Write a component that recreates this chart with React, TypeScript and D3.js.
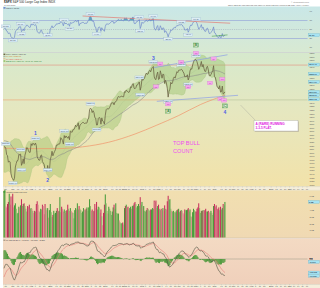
import React from "react";
import * as d3 from "d3";

// ---------------- data ----------------
const warmupCloses = [1211.7, 1192.1, 1197.5, 1207.2, 1205.9, 1208.7, 1217.3, 1212.1, 1183.7, 1191.4, 1206.8, 1186.7, 1202.3, 1173.6, 1165.9, 1128.2, 1110.9, 1159.7, 1155.8, 1171.7, 1157.4, 1135.7, 1136.9, 1120.8, 1115.1, 1071.6, 1087.7, 1073.7, 1074.0, 1067.9, 1103.1, 1089.4, 1070.7, 1098.4, 1102.8, 1064.9, 1050.5, 1062.0, 1055.7, 1086.8, 1091.6, 1089.6, 1115.2, 1114.6];
const closesJun2010 = [1116.0, 1117.5, 1113.2, 1095.3, 1092.0, 1073.7, 1076.8, 1074.6, 1041.2, 1030.7];
const closesJul2010 = [1027.4, 1022.6, 1028.1, 1060.3, 1070.3, 1077.9, 1078.8, 1095.3, 1095.2, 1096.5, 1064.9, 1071.3, 1083.5, 1069.6, 1093.7, 1102.7, 1115.0, 1113.8, 1106.1, 1101.5, 1101.6];
const closesAug2010 = [1125.9, 1120.5, 1127.2, 1125.8, 1121.6, 1127.8, 1121.1, 1089.5, 1083.6, 1079.3, 1079.4, 1092.5, 1094.2, 1075.6, 1071.7, 1067.4, 1051.9, 1055.3, 1047.2, 1064.6, 1048.9, 1049.3];
const closesSep2010 = [1080.3, 1090.1, 1104.5, 1091.8, 1098.9, 1104.2, 1109.6, 1121.9, 1121.1, 1125.1, 1124.7, 1125.6, 1142.7, 1139.8, 1134.3, 1124.8, 1148.7, 1142.2, 1147.7, 1144.7, 1141.2];
const closesOct2010 = [1146.2, 1137.0, 1160.8, 1159.0, 1158.1, 1165.2, 1165.3, 1169.8, 1178.1, 1173.8, 1176.2, 1184.7, 1165.9, 1178.2, 1180.3, 1183.1, 1185.6, 1185.6, 1182.5, 1183.8, 1183.3];
const closesNov2010 = [1184.4, 1193.6, 1197.9, 1221.1, 1225.9, 1223.3, 1213.4, 1218.7, 1213.5, 1199.2, 1197.8, 1178.3, 1178.6, 1196.7, 1199.7, 1197.8, 1180.7, 1198.4, 1189.4, 1187.8, 1180.6];
const closesDec2010 = [1206.1, 1221.5, 1224.7, 1223.1, 1223.8, 1228.3, 1233.0, 1240.4, 1240.5, 1241.6, 1235.2, 1242.9, 1243.9, 1247.1, 1254.6, 1258.8, 1256.8, 1257.5, 1258.5, 1259.8, 1257.9, 1257.6];
const closesJan2011 = [1271.9, 1270.2, 1276.6, 1273.9, 1271.5, 1269.8, 1274.5, 1285.9, 1283.8, 1293.2, 1295.0, 1281.9, 1280.3, 1283.4, 1290.8, 1291.2, 1296.6, 1299.5, 1276.3, 1286.1];
const closesFeb2011 = [1307.6, 1304.0, 1307.1, 1310.9, 1319.1, 1324.6, 1320.9, 1321.9, 1329.2, 1332.3, 1328.0, 1336.3, 1340.4, 1343.0, 1315.4, 1307.4, 1306.1, 1319.9, 1327.2];
const closesMar2011 = [1306.3, 1308.4, 1330.9, 1321.2, 1310.1, 1321.8, 1320.0, 1295.1, 1304.3, 1296.4, 1281.9, 1256.9, 1273.7, 1279.2, 1298.4, 1293.8, 1297.5, 1309.7, 1313.8, 1310.2, 1319.4, 1328.3, 1325.8];
const closesApr2011 = [1332.4, 1332.9, 1332.6, 1335.5, 1333.5, 1328.2, 1324.5, 1314.2, 1314.4, 1314.5, 1319.7, 1305.1, 1312.6, 1330.4, 1337.4, 1335.3, 1347.2, 1355.7, 1360.5, 1363.6];
const closesMay2011 = [1361.2, 1356.6, 1347.3, 1335.1, 1340.2, 1346.3, 1357.2, 1342.1, 1348.7, 1337.8, 1329.5, 1329.0, 1340.7, 1343.6, 1333.3, 1317.4, 1316.3, 1320.5, 1325.7, 1331.1, 1345.2];
const closesJun2011 = [1314.6, 1312.9, 1300.2, 1286.1, 1284.9, 1279.6, 1289.0, 1271.0, 1271.8, 1287.9, 1265.4, 1267.6, 1271.5];

// volume, billions of shares
const volumeJun2010 = [6.8, 7.0, 4.6, 4.4, 4.9, 5.2, 6.4, 4.8, 6.0, 5.9];
const volumeJul2010 = [6.4, 4.4, 4.7, 5.0, 4.2, 3.5, 3.6, 4.5, 4.3, 4.7, 5.6, 4.6, 4.9, 5.0, 4.6, 4.2, 3.8, 4.6, 4.5, 4.8, 4.2];
const volumeAug2010 = [4.3, 4.2, 3.9, 3.6, 3.9, 3.8, 4.9, 5.3, 4.8, 3.9, 3.7, 4.2, 4.1, 4.8, 4.6, 3.4, 4.9, 4.3, 4.0, 4.3, 2.9, 4.0];
const volumeSep2010 = [4.9, 3.7, 3.0, 3.3, 3.9, 3.5, 3.6, 3.9, 4.3, 3.8, 3.9, 5.9, 3.7, 4.5, 4.2, 3.8, 4.1, 3.6, 3.9, 4.0, 4.8];
const volumeOct2010 = [4.2, 3.9, 4.3, 3.9, 3.7, 3.6, 2.8, 4.0, 4.3, 4.1, 5.0, 4.1, 4.6, 4.2, 4.0, 3.6, 3.8, 4.3, 4.1, 4.0, 4.2];
const volumeNov2010 = [4.4, 3.9, 4.4, 5.6, 4.6, 3.9, 4.1, 3.8, 3.9, 4.9, 4.3, 5.2, 4.1, 4.5, 4.4, 3.6, 4.1, 3.1, 1.8, 3.6, 4.8];
const volumeDec2010 = [6.3, 5.0, 3.9, 3.5, 4.5, 4.2, 3.9, 3.3, 3.8, 4.4, 4.8, 4.2, 5.0, 3.6, 3.5, 3.5, 2.5, 2.2, 2.0, 2.1, 2.2, 1.9];
const volumeJan2011 = [4.3, 4.6, 4.8, 4.4, 4.5, 4.0, 4.3, 4.5, 4.2, 4.6, 4.7, 5.0, 5.2, 4.9, 4.4, 4.6, 4.9, 4.6, 5.9, 4.8];
const volumeFeb2011 = [5.2, 4.4, 4.6, 3.9, 3.8, 4.0, 4.3, 4.2, 4.0, 3.9, 4.1, 4.1, 4.3, 4.2, 5.4, 5.2, 5.4, 4.3, 4.6];
const volumeMar2011 = [4.8, 4.2, 4.0, 4.2, 4.0, 4.3, 3.9, 4.7, 4.2, 4.1, 5.3, 6.1, 5.5, 5.6, 4.2, 3.9, 3.8, 3.9, 3.7, 3.6, 3.8, 4.0, 4.1];
const volumeApr2011 = [4.2, 3.7, 3.9, 4.0, 3.9, 3.6, 3.4, 4.1, 4.0, 4.0, 4.1, 4.3, 3.8, 4.1, 3.1, 3.0, 3.7, 4.2, 4.0, 3.8];
const volumeMay2011 = [3.8, 4.2, 4.4, 5.0, 4.3, 3.6, 3.9, 3.9, 4.0, 3.9, 4.0, 4.2, 3.8, 3.8, 3.9, 3.7, 3.6, 3.9, 3.6, 3.3, 4.6];
const volumeJun2011 = [4.9, 4.5, 4.7, 4.0, 4.2, 4.4, 4.0, 4.5, 4.1, 4.3, 4.9, 4.7, 5.2];

const lastOpen = 1268.58;
const lastHigh = 1279.82;
const lastLow = 1267.4;

const marketHolidays = ["2010-07-05", "2010-09-06", "2010-11-25", "2010-12-24", "2011-01-17", "2011-02-21", "2011-04-22", "2011-05-30", "2011-07-04", "2011-09-05", "2011-11-24"];
const monthAbbr = ["2011", "Feb", "Mar", "Apr", "May", "Jun", "Jul", "Aug", "Sep", "Oct", "Nov", "Dec"];

// 200-day average
const ma200Index = [0, 30, 60, 90, 120, 150, 175, 200, 225, 253];
const ma200Values = [1113, 1112, 1112, 1117, 1130, 1153, 1178, 1205, 1236, 1262];

// annotation levels and trend lines (index, value)
const horizontalLevels = [1347, 1249];
const channelUpper = [[172, 1340], [256, 1376]];
const channelLower = [[175, 1245], [268, 1262]];
const rsiTrend = [[90, 80], [259, 64]];
const rsiShortTrend = [[238, 35], [256, 38]];

const priceHighNotes = [2, 19, 36, 69, 99, 155, 171, 203, 220];
const priceLowNotes = [10, 20, 50, 75, 106, 156, 188, 211];

const waveIdx = [174, 179, 188, 203, 211, 220, 236, 240, 248, 250, 252];
const waveText = ["(a)", "(b)", "(c)", "(a)", "(b)", "(c)", "(i)", "(ii)", "(iii)", "(iv)", "(v)"];
const waveAbove = [false, true, false, true, false, true, false, true, false, true, false];
const degreeIdx = [188, 220, 253];
const degreeText = ["[A]", "[B]", "[C]"];
const degreeAbove = [false, true, false];
const numIdx = [36, 50, 171, 253];
const numText = ["1", "2", "3", "4"];

// ---------------- layout ----------------
const FONT = "'Liberation Sans', Arial, Helvetica, sans-serif";
const PL = 3;
const PR = 307.5;
const numOffset = [-10, 15, -8, 20];

function buildDays(count: number): Date[] {
  const out: Date[] = [];
  const d = new Date(Date.UTC(2010, 5, 17));
  while (out.length < count) {
    const dow = d.getUTCDay();
    const key = d.toISOString().slice(0, 10);
    if (dow !== 0 && dow !== 6 && marketHolidays.indexOf(key) < 0) out.push(new Date(d.getTime()));
    d.setUTCDate(d.getUTCDate() + 1);
  }
  return out;
}

function ema(arr: number[], n: number): number[] {
  const k = 2 / (n + 1);
  const out = [arr[0]];
  for (let j = 1; j < arr.length; j++) out.push(out[j - 1] + (arr[j] - out[j - 1]) * k);
  return out;
}

// push labels apart so they do not overlap
function spread(items: { y: number; text: string }[], gap: number) {
  const s = items.slice().sort((a, b) => a.y - b.y).map((d) => ({ ...d }));
  for (let k = 1; k < s.length; k++) if (s[k].y - s[k - 1].y < gap) s[k].y = s[k - 1].y + gap;
  return s;
}

export default function App() {
  const closes = [
    ...closesJun2010, ...closesJul2010, ...closesAug2010, ...closesSep2010, ...closesOct2010, ...closesNov2010,
    ...closesDec2010, ...closesJan2011, ...closesFeb2011, ...closesMar2011, ...closesApr2011, ...closesMay2011, ...closesJun2011,
  ];
  const volumes = [
    ...volumeJun2010, ...volumeJul2010, ...volumeAug2010, ...volumeSep2010, ...volumeOct2010, ...volumeNov2010,
    ...volumeDec2010, ...volumeJan2011, ...volumeFeb2011, ...volumeMar2011, ...volumeApr2011, ...volumeMay2011, ...volumeJun2011,
  ];
  const all = [...warmupCloses, ...closes];
  const W0 = warmupCloses.length;
  const N = closes.length;
  const days = buildDays(348);

  const x = d3.scaleLinear().domain([0, 347]).range([4, 307]);
  const yP = d3.scaleLinear().domain([1004, 1381]).range([187, 53]);
  const yR = d3.scaleLinear().domain([0, 100]).range([52, 7]);
  const yV = d3.scaleLinear().domain([0, 6.8]).range([237.5, 191]);

  const ma50 = closes.map((_, i) => {
    const j = W0 + i;
    return d3.mean(all.slice(Math.max(0, j - 49), j + 1)) as number;
  });
  const bb = closes.map((_, i) => {
    const j = W0 + i;
    const w = all.slice(j - 19, j + 1);
    const m = d3.mean(w) as number;
    const sd = Math.sqrt(d3.mean(w.map((v) => (v - m) * (v - m))) as number);
    return { m, u: m + 2 * sd, l: m - 2 * sd };
  });
  const rsiAll: number[] = all.map(() => 50);
  let ag = 0, al = 0;
  for (let j = 1; j < all.length; j++) {
    const ch = all[j] - all[j - 1];
    const g = Math.max(ch, 0), l = Math.max(-ch, 0);
    if (j <= 14) { ag += g / 14; al += l / 14; } else { ag = (ag * 13 + g) / 14; al = (al * 13 + l) / 14; }
    if (j >= 14) rsiAll[j] = al === 0 ? 100 : 100 - 100 / (1 + ag / al);
  }
  const rsi = closes.map((_, i) => rsiAll[W0 + i]);
  const e12 = ema(all, 12), e26 = ema(all, 26);
  const macdAll = all.map((_, j) => e12[j] - e26[j]);
  const sigAll = ema(macdAll, 9);
  const macd = closes.map((_, i) => macdAll[W0 + i]);
  const sig = closes.map((_, i) => sigAll[W0 + i]);
  const hist = macd.map((m, i) => m - sig[i]);
  const mMax = d3.max([...macd, ...sig]) as number;
  const mMin = d3.min([...macd, ...sig]) as number;
  const kM = Math.min((259 - 241) / mMax, (259 - 283) / mMin);
  const yM = d3.scaleLinear().domain([0, 1]).range([259, 259 - kM]);

  const lineP = d3.line<number>().x((_, i) => x(i)).y((d) => yP(d));
  const lineR = d3.line<number>().x((_, i) => x(i)).y((d) => yR(d));
  const lineM = d3.line<number>().x((_, i) => x(i)).y((d) => yM(d));
  const bbArea = d3.area<{ m: number; u: number; l: number }>().x((_, i) => x(i)).y0((d) => yP(d.l)).y1((d) => yP(d.u));
  const ma200Path = d3.line<number>().x((_, k) => x(ma200Index[k])).y((d) => yP(d)).curve(d3.curveMonotoneX)(ma200Values) as string;
  const rsiHi = d3.area<number>().x((_, i) => x(i)).y0(yR(70)).y1((d) => yR(Math.max(d, 70)));
  const rsiLo = d3.area<number>().x((_, i) => x(i)).y0(yR(30)).y1((d) => yR(Math.min(d, 30)));

  const last = N - 1;
  const fmt2 = d3.format(".2f");
  const fmt3 = d3.format(".3f");
  const dateFmt = d3.utcFormat("%d-%b-%Y");
  const ma200Last = ma200Values[ma200Values.length - 1];

  // date axis ticks
  const ticks: { i: number; label: string; major: boolean }[] = [];
  for (let i = 1; i < days.length; i++) {
    const d = days[i], p = days[i - 1];
    if (d.getUTCMonth() !== p.getUTCMonth()) {
      const m = d.getUTCMonth();
      ticks.push({ i, label: m === 0 ? String(d.getUTCFullYear()) : monthAbbr[m], major: true });
    } else if (d.getUTCDay() < p.getUTCDay()) {
      ticks.push({ i, label: String(d.getUTCDate()), major: false });
    }
  }
  const majors = ticks.filter((t) => t.major).map((t) => t.i);
  const axisTicks = ticks.filter((t) => t.major || majors.every((m) => Math.abs(m - t.i) > 3));

  const volColor = (i: number) => {
    const j = W0 + i;
    const up = all[j] >= all[j - 1];
    const louder = i === 0 || volumes[i] >= volumes[i - 1];
    if (up) return louder ? "#3f9a36" : "#86b565";
    return louder ? "#c42a5a" : "#d88a8c";
  };

  const noteBox = (cx: number, cy: number, text: string, key: string) => (
    <g key={key}>
      <rect x={cx - 4.4} y={cy - 1.5} width={8.8} height={3} fill="#dcedf5" stroke="#94aecb" strokeWidth={0.25} />
      <text x={cx} y={cy + 0.8} fontSize={2.2} textAnchor="middle" fill="#4a5a78">{text}</text>
    </g>
  );

  // right-hand axis: tick labels plus highlighted current-value boxes (ticks under a box are hidden)
  const rightAxis = (
    tickVals: number[],
    yfn: (v: number) => number,
    tickText: (v: number) => string,
    boxes: { y: number; text: string }[],
    prefix: string,
  ) => {
    const placed = spread(boxes, 3.2);
    const shown = tickVals.filter((v) => placed.every((b) => Math.abs(yfn(v) - b.y) > 3));
    return (
      <g key={prefix}>
        {shown.map((v) => (
          <text key={prefix + "t" + v} x={309.5} y={yfn(v) + 0.8} fontSize={2.2} fill="#555">{tickText(v)}</text>
        ))}
        {placed.map((it, k) => (
          <g key={prefix + "b" + k}>
            <rect x={308.3} y={it.y - 1.5} width={11.2} height={3} fill="#a6e3f2" stroke="#5aa8c4" strokeWidth={0.25} />
            <text x={308.9} y={it.y + 0.8} fontSize={2.2} fill="#123">{it.text}</text>
          </g>
        ))}
      </g>
    );
  };

  const dateAxis = (y0: number, key: string) => (
    <g key={key}>
      <rect x={PL} y={y0} width={320 - PL} height={3.8} fill="#f5eedb" />
      <line x1={PL} x2={320} y1={y0} y2={y0} stroke="#b9b3a0" strokeWidth={0.3} />
      <line x1={PL} x2={320} y1={y0 + 3.8} y2={y0 + 3.8} stroke="#b9b3a0" strokeWidth={0.3} />
      {axisTicks.map((t) => (
        <g key={key + t.i}>
          <line x1={x(t.i)} x2={x(t.i)} y1={y0} y2={y0 + 0.8} stroke="#888" strokeWidth={0.3} />
          <text x={x(t.i)} y={y0 + 2.9} fontSize={t.major ? 2.4 : 2.1} textAnchor="middle" fill={t.major ? "#333" : "#666"}>{t.label}</text>
        </g>
      ))}
    </g>
  );

  const priceTickValues = d3.range(1010, 1381, 10);
  const macdTicks = yM.ticks(8).filter((t) => yM(t) > 241 && yM(t) < 283.5);

  return (
    <svg width={320} height={288} style={{ position: "absolute", left: 0, top: 0, display: "block", background: "#fff" }} fontFamily={FONT}>
      <defs>
        <linearGradient id="gRsi" x1="0" y1="0" x2="0" y2="1">
          <stop offset="0%" stopColor="#c9e7e7" />
          <stop offset="100%" stopColor="#d8e9d2" />
        </linearGradient>
        <linearGradient id="gMain" x1="0" y1="0" x2="0" y2="1">
          <stop offset="0%" stopColor="#d6e9cd" />
          <stop offset="45%" stopColor="#e6e7bf" />
          <stop offset="100%" stopColor="#f2e2a9" />
        </linearGradient>
        <linearGradient id="gVol" x1="0" y1="0" x2="0" y2="1">
          <stop offset="0%" stopColor="#f1dfb0" />
          <stop offset="100%" stopColor="#f0d9b3" />
        </linearGradient>
        <linearGradient id="gMacd" x1="0" y1="0" x2="0" y2="1">
          <stop offset="0%" stopColor="#f3dac3" />
          <stop offset="100%" stopColor="#f0d0bb" />
        </linearGradient>
      </defs>

      {/* header */}
      <text x={4} y={3} fontSize={3} fill="#222"><tspan fontWeight="bold">$SPX</tspan> S&amp;P 500 Large Cap Index INDX</text>
      <text x={4} y={5.8} fontSize={2.1} fill="#666">{dateFmt(days[last])}</text>
      <text x={309} y={2.6} fontSize={2.1} fill="#777" textAnchor="end">© StockCharts.com</text>
      <text x={309} y={5.6} fontSize={2.0} fill="#555" textAnchor="end">
        {`Open ${fmt2(lastOpen)} High ${fmt2(lastHigh)} Low ${fmt2(lastLow)} Close ${fmt2(closes[last])} Volume ${volumes[last].toFixed(1)}B Chg ${d3.format("+.2f")(closes[last] - closes[last - 1])} (${d3.format("+.2%")((closes[last] - closes[last - 1]) / closes[last - 1])})`}
      </text>

      {/* RSI panel */}
      <rect x={PL} y={6.5} width={320 - PL} height={46} fill="url(#gRsi)" />
      <line x1={PL} x2={PR} y1={yR(70)} y2={yR(70)} stroke="#98a8d8" strokeWidth={0.7} />
      <line x1={PL} x2={PR} y1={yR(30)} y2={yR(30)} stroke="#98a8d8" strokeWidth={0.7} />
      <line x1={PL} x2={PR} y1={yR(50)} y2={yR(50)} stroke="#9aa6b8" strokeWidth={0.5} strokeDasharray="1.2 1" />
      <path d={rsiHi(rsi) as string} fill="#5aa6b6" />
      <path d={rsiLo(rsi) as string} fill="#5aa6b6" />
      <path d={lineR(rsi) as string} fill="none" stroke="#6f86cc" strokeWidth={0.7} />
      <line x1={x(rsiTrend[0][0])} y1={yR(rsiTrend[0][1])} x2={x(rsiTrend[1][0])} y2={yR(rsiTrend[1][1])} stroke="#e27a72" strokeWidth={0.7} />
      <line x1={x(rsiShortTrend[0][0])} y1={yR(rsiShortTrend[0][1])} x2={x(rsiShortTrend[1][0])} y2={yR(rsiShortTrend[1][1])} stroke="#4aa24a" strokeWidth={0.6} />
      {priceHighNotes.map((i) => noteBox(x(i), yR(rsi[i]) - 2.4, fmt2(rsi[i]), "rh" + i))}
      {priceLowNotes.map((i) => noteBox(x(i), yR(rsi[i]) + 2.4, fmt2(rsi[i]), "rl" + i))}
      <rect x={3.5} y={7.1} width={2} height={1.6} fill="#6f86cc" />
      <text x={6.2} y={8.6} fontSize={2.1} fill="#334">{`RSI(14) ${fmt2(rsi[last])}`}</text>
      {rightAxis([10, 30, 50, 70, 90], (v) => yR(v), (v) => String(v), [{ y: yR(rsi[last]), text: fmt2(rsi[last]) }], "rax")}
      <line x1={PL} x2={320} y1={52.7} y2={52.7} stroke="#a9aeb0" strokeWidth={0.5} />

      {/* main price panel */}
      <rect x={PL} y={53} width={320 - PL} height={133.5} fill="url(#gMain)" />
      <line x1={PL} x2={PR} y1={yP(horizontalLevels[0])} y2={yP(horizontalLevels[0])} stroke="#e58e7d" strokeWidth={0.6} />
      <line x1={PL} x2={160} y1={yP(horizontalLevels[1])} y2={yP(horizontalLevels[1])} stroke="#f0a274" strokeWidth={0.6} />
      <line x1={160} x2={PR} y1={yP(horizontalLevels[1])} y2={yP(horizontalLevels[1])} stroke="#b7c19b" strokeWidth={0.6} />
      <path d={bbArea(bb) as string} fill="#93bf62" fillOpacity={0.4} stroke="#a3c27e" strokeWidth={0.35} />
      <path d={lineP(bb.map((b) => b.m)) as string} fill="none" stroke="#a9c28a" strokeWidth={0.3} />
      <path d={ma200Path} fill="none" stroke="#f0946a" strokeWidth={0.7} />
      <path d={lineP(ma50) as string} fill="none" stroke="#8a8a8a" strokeWidth={0.6} />
      <line x1={x(channelUpper[0][0])} y1={yP(channelUpper[0][1])} x2={x(channelUpper[1][0])} y2={yP(channelUpper[1][1])} stroke="#8d9fe6" strokeWidth={0.7} />
      <line x1={x(channelLower[0][0])} y1={yP(channelLower[0][1])} x2={x(channelLower[1][0])} y2={yP(channelLower[1][1])} stroke="#8d9fe6" strokeWidth={0.7} />
      <path d={lineP(closes) as string} fill="none" stroke="#6c6545" strokeWidth={0.8} strokeLinejoin="round" />
      {priceHighNotes.map((i) => noteBox(x(i), yP(closes[i]) - 4.5, fmt2(closes[i]), "ph" + i))}
      {priceLowNotes.map((i) => noteBox(x(i), yP(closes[i]) + 4.5, fmt2(closes[i]), "pl" + i))}
      {waveIdx.map((i, k) => {
        const cy = yP(closes[i]) + (waveAbove[k] ? -7 : 7);
        return (
          <g key={"w" + k}>
            <rect x={x(i) - 2.6} y={cy - 1.8} width={5.2} height={3.6} fill="#f4a9ec" stroke="#d66fd0" strokeWidth={0.25} />
            <text x={x(i)} y={cy + 0.9} fontSize={2.4} textAnchor="middle" fill="#b416b0">{waveText[k]}</text>
          </g>
        );
      })}
      {degreeIdx.map((i, k) => {
        const cy = yP(closes[i]) + (degreeAbove[k] ? -15 : 14);
        return (
          <g key={"dg" + k}>
            <rect x={x(i) - 2.6} y={cy - 2} width={5.2} height={4} fill="#e4f2dc" stroke="#3d963d" strokeWidth={0.4} />
            <text x={x(i)} y={cy + 1} fontSize={2.8} textAnchor="middle" fill="#2a7d2a" fontWeight="bold">{degreeText[k]}</text>
          </g>
        );
      })}
      {numIdx.map((i, k) => (
        <text key={"n" + k} x={x(i)} y={yP(closes[i]) + numOffset[k] + 1.8} fontSize={5} textAnchor="middle" fill="#4e5ee6" fontWeight="bold">{numText[k]}</text>
      ))}
      <g fontSize={2.1}>
        <rect x={3.5} y={53.6} width={1.8} height={1.5} fill="#6c6545" />
        <text x={6} y={55.1} fill="#555">{`$SPX (Daily) ${fmt2(closes[last])}`}</text>
        <line x1={3.4} x2={5.4} y1={56.6} y2={56.6} stroke="#8a8a8a" strokeWidth={0.6} />
        <text x={6} y={57.3} fill="#d08a3a">{`MA(50) ${fmt2(ma50[last])}`}</text>
        <line x1={3.4} x2={5.4} y1={58.8} y2={58.8} stroke="#f0946a" strokeWidth={0.6} />
        <text x={6} y={59.5} fill="#e06050">{`MA(200) ${fmt2(ma200Last)}`}</text>
        <rect x={3.5} y={60.3} width={1.8} height={1.5} fill="#93bf62" />
        <text x={6} y={61.7} fill="#3e8a3e">{`BB(20,2.0) ${fmt2(bb[last].m)}, ${fmt2(bb[last].u)}, ${fmt2(bb[last].l)}`}</text>
      </g>
      <text x={173} y={144.5} fontSize={5.6} fill="#ef4fef">TOP BULL</text>
      <text x={173} y={152.5} fontSize={5.6} fill="#ef4fef">COUNT</text>
      <line x1={240.5} y1={105} x2={256} y2={121} stroke="#8c8c8c" strokeWidth={0.45} strokeDasharray="0.9 0.5" />
      <rect x={255} y={121.5} width={44} height={10.5} fill="#b8b0a0" opacity={0.6} />
      <rect x={254} y={120.5} width={44} height={10.5} fill="#ffffff" stroke="#a0a0a0" strokeWidth={0.35} />
      <text x={255.5} y={124.6} fontSize={3.1} fill="#e020e0" fontWeight="bold">A (RARE) RUNNING</text>
      <text x={255.5} y={129} fontSize={3.1} fill="#e020e0" fontWeight="bold">3-3-5 FLAT.</text>
      {rightAxis(priceTickValues, (v) => yP(v), (v) => String(v), [
        { y: yP(bb[last].u), text: fmt2(bb[last].u) },
        { y: yP(ma50[last]), text: fmt2(ma50[last]) },
        { y: yP(bb[last].m), text: fmt2(bb[last].m) },
        { y: yP(closes[last]), text: fmt2(closes[last]) },
        { y: yP(ma200Last), text: fmt2(ma200Last) },
        { y: yP(bb[last].l), text: fmt2(bb[last].l) },
      ], "pax")}

      {dateAxis(186.6, "ax1")}

      {/* volume panel */}
      <rect x={PL} y={190.4} width={320 - PL} height={47.6} fill="url(#gVol)" />
      {volumes.map((v, i) => (
        <rect key={"v" + i} x={x(i) - 0.5} y={yV(v)} width={1} height={yV(0) - yV(v)} fill={volColor(i)} />
      ))}
      <rect x={3.5} y={191.2} width={1.8} height={1.5} fill="#3f9a36" />
      <text x={6} y={192.7} fontSize={2.1} fill="#444">{`Volume ${d3.format(",")(Math.round(volumes[last] * 1e9))}`}</text>
      {rightAxis(d3.range(1, 7), (v) => yV(v), (v) => `${v}.0B`, [{ y: yV(volumes[last]), text: `${volumes[last].toFixed(1)}B` }], "vax")}
      <line x1={PL} x2={320} y1={238.2} y2={238.2} stroke="#b8ada0" strokeWidth={0.6} />

      {/* MACD panel */}
      <rect x={PL} y={238.5} width={320 - PL} height={46} fill="url(#gMacd)" />
      <line x1={PL} x2={PR} y1={yM(0)} y2={yM(0)} stroke="#9a9a8a" strokeWidth={0.5} />
      {hist.map((h, i) => (
        <rect key={"h" + i} x={x(i) - 0.5} y={Math.min(yM(h), yM(0))} width={1} height={Math.abs(yM(h) - yM(0))} fill="#4f9a3d" />
      ))}
      <path d={lineM(sig) as string} fill="none" stroke="#e47a76" strokeWidth={0.6} />
      <path d={lineM(macd) as string} fill="none" stroke="#4d5040" strokeWidth={0.6} />
      <line x1={3.4} x2={5.4} y1={240.2} y2={240.2} stroke="#4d5040" strokeWidth={0.6} />
      <text x={6} y={240.9} fontSize={2.1} fill="#444">{`MACD(12,26,9) ${fmt3(macd[last])}, ${fmt3(sig[last])}, ${fmt3(hist[last])}`}</text>
      {rightAxis(macdTicks, (v) => yM(v), (v) => String(v), [
        { y: yM(hist[last]), text: fmt3(hist[last]) },
        { y: yM(sig[last]), text: fmt3(sig[last]) },
        { y: yM(macd[last]), text: fmt3(macd[last]) },
      ], "max")}

      {dateAxis(284.5, "ax2")}
    </svg>
  );
}
